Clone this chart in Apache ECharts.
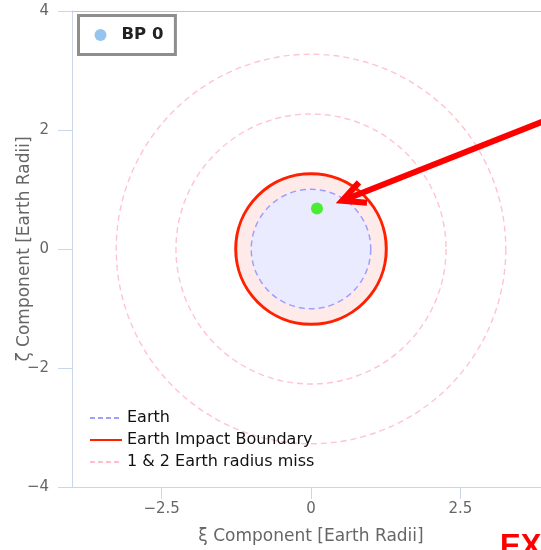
<!DOCTYPE html>
<html>
<head>
<meta charset="utf-8">
<script src="https://cdn.jsdelivr.net/npm/echarts@6/dist/echarts.min.js"></script>
<style>
  html, body { margin: 0; padding: 0; background: #fff; }
  #chart { width: 541px; height: 550px; }
</style>
</head>
<body>
<div id="chart"></div>
<script>
// B-plane target rings, centred on Earth (units: Earth radii)
const earthRadius = [1];
const impactRadius = [1.26];
const missRadii = [2.26, 3.26];
// body position on the B-plane
const bpPoint = [[0.1, 0.68]];
// axis ticks
const xTicks = [-2.5, 0, 2.5];
const yRange = [-4, 4];
const xRange = [-4, 4];
// pointer arrow, tip and tail in B-plane coordinates
const arrowTip = [0.52, 0.81];
const arrowTail = [4.5, 2.39];

const FONT = 'DejaVu Sans';
const minus = v => String(v).replace('-', '\u2212');

function ring(fill, stroke, width, dash) {
  return function (params, api) {
    const c = api.coord([api.value(0), api.value(1)]);
    const r = api.size([api.value(2), 0])[0];
    return {
      type: 'circle',
      shape: { cx: c[0], cy: c[1], r: r },
      style: { fill: fill, stroke: stroke, lineWidth: width, lineDash: dash }
    };
  };
}

const centred = rs => rs.map(r => [0, 0, r]);

const chart = echarts.init(document.getElementById('chart'), null, { renderer: 'canvas' });

const axisColor = '#ccd6eb';
const clear = 'rgba(0,0,0,0)';

chart.setOption({
  animation: false,
  backgroundColor: '#fff',
  textStyle: { fontFamily: FONT },
  grid: { left: 72, right: -9, top: 11, bottom: 63, containLabel: false, outerBoundsMode: 'none' },
  xAxis: [{
    type: 'value', min: xRange[0], max: xRange[1],
    name: '\u03be Component [Earth Radii]', nameLocation: 'middle', nameGap: 41, nameMoveOverlap: false,
    nameTextStyle: { fontSize: 17, color: '#666', fontFamily: FONT },
    axisLine: { show: true, onZero: false, lineStyle: { color: axisColor, width: 1 } },
    axisTick: { show: true, length: 12, customValues: xTicks, lineStyle: { color: axisColor } },
    axisLabel: { customValues: xTicks, formatter: minus, fontSize: 15, color: '#666', margin: 15, fontFamily: FONT },
    splitLine: { show: false }
  }, {
    type: 'value', position: 'top', min: xRange[0], max: xRange[1],
    axisLine: { show: true, onZero: false, lineStyle: { color: '#c4c4c4', width: 1 } },
    axisTick: { show: false }, axisLabel: { show: false }, splitLine: { show: false }
  }],
  yAxis: {
    type: 'value', min: yRange[0], max: yRange[1], interval: 2,
    name: '\u03b6 Component [Earth Radii]', nameLocation: 'middle', nameGap: 39, nameMoveOverlap: false,
    nameTextStyle: { fontSize: 17, color: '#666', fontFamily: FONT },
    axisLine: { show: true, onZero: false, lineStyle: { color: axisColor, width: 1 } },
    axisTick: { show: true, length: 14, lineStyle: { color: axisColor } },
    axisLabel: { formatter: minus, fontSize: 15, color: '#666', margin: 23, fontFamily: FONT },
    splitLine: { show: false }
  },
  legend: [{
    data: ['BP 0'],
    left: 78.5, top: 15.5, orient: 'horizontal',
    backgroundColor: '#fff', borderColor: '#8e8e8e', borderWidth: 3, borderRadius: 0,
    padding: [11, 12, 11, 16],
    icon: 'circle', itemWidth: 12, itemHeight: 12,
    textStyle: { fontSize: 16.5, fontWeight: 'bold', color: '#222', fontFamily: FONT, padding: [0, 0, 0, 10] }
  }, {
    data: ['Earth', 'Earth Impact Boundary', '1 & 2 Earth radius miss'],
    left: 84, top: 405, orient: 'vertical',
    itemWidth: 32, itemHeight: 14, itemGap: 6,
    itemStyle: { color: clear, borderColor: clear, borderWidth: 0 },
    textStyle: { fontSize: 16, color: '#111', fontFamily: FONT }
  }],
  series: [
    // legend carriers (stroke styles shown in the legend)
    { type: 'line', name: 'Earth', data: [], symbol: 'none', color: '#9f9fff',
      lineStyle: { color: '#9f9fff', width: 1.5, type: [5, 3] } },
    { type: 'line', name: 'Earth Impact Boundary', data: [], symbol: 'none', color: '#ff2000',
      lineStyle: { color: '#ff2000', width: 3 } },
    { type: 'line', name: '1 & 2 Earth radius miss', data: [], symbol: 'none', color: '#ffc0cb',
      lineStyle: { color: '#ffc0cb', width: 1.5, type: [5, 3] } },
    // rings drawn on the B-plane
    { type: 'custom', name: '1 & 2 Earth radius miss', data: centred(missRadii),
      encode: { x: 0, y: 1 }, renderItem: ring(null, '#ffc4cf', 1.4, [6, 4]) },
    { type: 'custom', name: 'Earth Impact Boundary', data: centred(impactRadius),
      encode: { x: 0, y: 1 }, renderItem: ring('#ffeaea', '#ff2000', 3, null) },
    { type: 'custom', name: 'Earth', data: centred(earthRadius),
      encode: { x: 0, y: 1 }, renderItem: ring('#ebebff', '#9f9fff', 1.5, [6, 4]) },
    { type: 'scatter', name: 'BP 0', color: '#7cb5ec', symbolSize: 12,
      data: bpPoint.map(p => ({ value: p, itemStyle: { color: '#22ee00' } })) }
  ]
});

// arrow pointing at the impact region
function drawArrow() {
  const tip = chart.convertToPixel({ gridIndex: 0 }, arrowTip);
  const tail = chart.convertToPixel({ gridIndex: 0 }, arrowTail);
  const ang = Math.atan2(tail[1] - tip[1], tail[0] - tip[0]);
  const headLen = 25, spread = 26 * Math.PI / 180;
  const b1 = [tip[0] + headLen * Math.cos(ang - spread), tip[1] + headLen * Math.sin(ang - spread)];
  const b2 = [tip[0] + headLen * Math.cos(ang + spread), tip[1] + headLen * Math.sin(ang + spread)];
  chart.setOption({
    graphic: [
      { type: 'polyline', z: 100, shape: { points: [tail, tip] },
        style: { stroke: '#ff0000', lineWidth: 6, fill: null } },
      { type: 'polyline', z: 100, shape: { points: [b1, tip, b2] },
        style: { stroke: '#ff0000', lineWidth: 6, fill: null, lineJoin: 'miter' } },
      { type: 'text', z: 100, x: 500, y: 547,
        style: { text: 'EX', fill: '#ff0000', fontSize: 31, fontWeight: 'bold',
                 fontFamily: 'Liberation Sans', textVerticalAlign: 'middle' } }
    ]
  });
}
drawArrow();
</script>
</body>
</html>
